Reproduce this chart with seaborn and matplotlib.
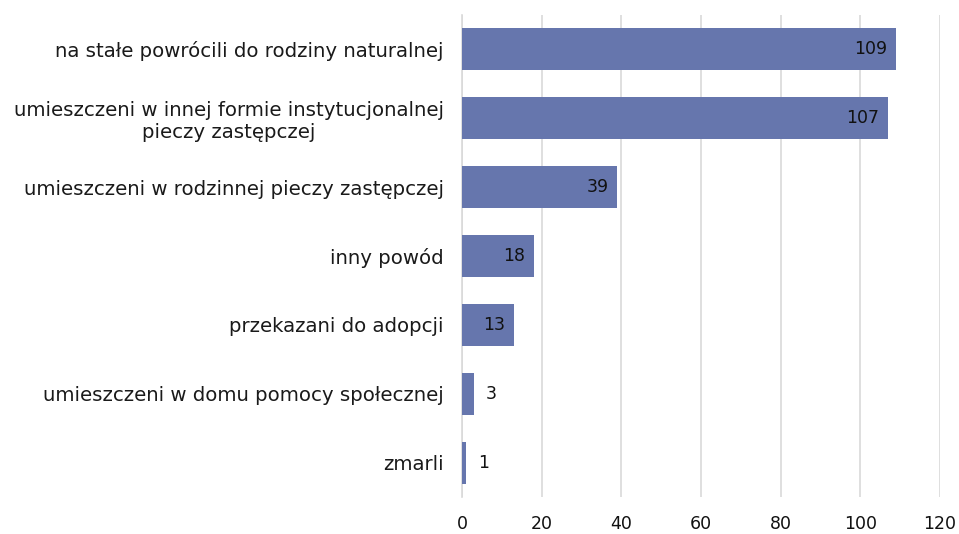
import matplotlib
matplotlib.use("Agg")
import matplotlib.pyplot as plt
import seaborn as sns
import pandas as pd

categories = [
    "na stałe powrócili do rodziny naturalnej",
    "umieszczeni w innej formie instytucjonalnej\npieczy zastępczej",
    "umieszczeni w rodzinnej pieczy zastępczej",
    "inny powód",
    "przekazani do adopcji",
    "umieszczeni w domu pomocy społecznej",
    "zmarli",
]
values = [109, 107, 39, 18, 13, 3, 1]
xticks = [0, 20, 40, 60, 80, 100, 120]

sns.set_theme(style="white")
plt.rcParams['font.family'] = ['DejaVu Sans']
FS = 14.2
FN = 12.5

df = pd.DataFrame({"cat": categories, "val": values})
fig = plt.figure(figsize=(9.59, 5.34), dpi=100)
ax = fig.add_axes([462/959, 1-497/534, (940-462)/959, (497-15)/534])
sns.barplot(data=df, x="val", y="cat", color="#6676AD", saturation=1, width=0.61,
            linewidth=0, ax=ax, zorder=3)

ax.set_xlim(0, 120)
ax.set_xticks(xticks)
ax.set_xticklabels([str(t) for t in xticks], fontsize=FN, color="#111111")
ax.tick_params(axis='y', labelsize=FS, colors="#1a1a1a", length=0, pad=13)
ax.tick_params(axis='x', length=0, pad=13)
ax.set_xlabel("")
ax.set_ylabel("")
for lab in ax.get_yticklabels():
    lab.set_horizontalalignment('right')
    lab.set_multialignment('center')
ax.grid(axis='x', color="#D9D9D9", linewidth=1.2, zorder=0)
for s in ["top", "right", "bottom"]:
    ax.spines[s].set_visible(False)
ax.spines["left"].set_color("#D9D9D9")
ax.spines["left"].set_linewidth(1.2)

for i, v in enumerate(values):
    if v >= 10:
        ax.text(v - 2.2, i, str(v), ha='right', va='center', fontsize=FN, color="#111111", zorder=4)
    else:
        ax.text(v + 3, i, str(v), ha='left', va='center', fontsize=FN, color="#111111", zorder=4)

fig.savefig("out.png", dpi=100)
